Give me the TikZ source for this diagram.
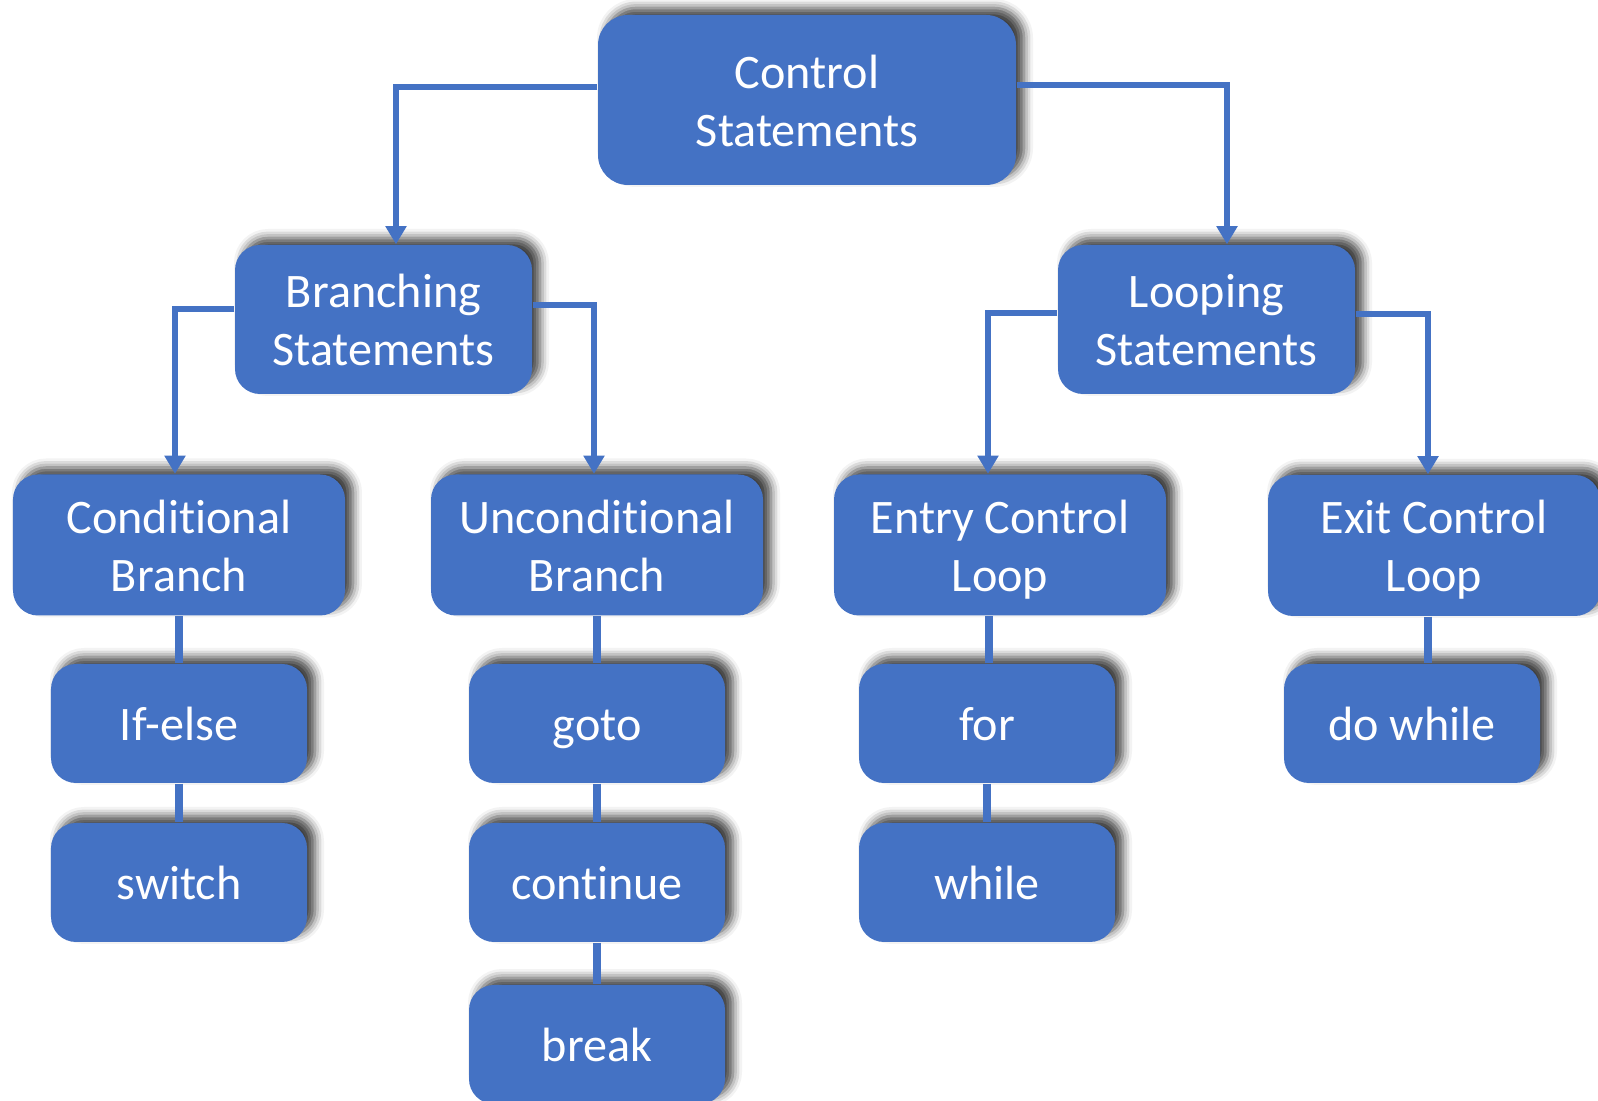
\documentclass[tikz,border=0pt]{standalone}
\usepackage{fontspec}
\setmainfont[Ligatures={NoCommon,NoContextual,NoRare},
             Contextuals=NoAlternate]{Carlito}
\usetikzlibrary{arrows.meta,shadows.blur}
\definecolor{boxblue}{HTML}{4472C4}

\begin{document}
\begin{tikzpicture}[
  box/.style   = {fill=boxblue, text=white, align=center, inner sep=0pt,
                  rounded corners=0.25cm, text height=26.2pt, text depth=0pt,
                  font=\fontsize{13.7pt}{16.5pt}\selectfont,
                  blur shadow={shadow xshift=0.08cm, shadow yshift=0.07cm,
                               shadow blur radius=0.09cm, shadow opacity=75}},
  top/.style   = {box, minimum width=4.18cm, minimum height=1.70cm,
                  rounded corners=0.3cm},
  mid/.style   = {box, minimum width=2.97cm, minimum height=1.49cm},
  kind/.style  = {box, minimum width=3.32cm, minimum height=1.41cm},
  leaf/.style  = {box, minimum width=2.56cm, minimum height=1.19cm,
                  text height=9.7pt},
  elbow/.style = {line width=1.9pt, boxblue,
                  -{Triangle[length=5.2pt,width=5.8pt]}},
  stem/.style  = {line width=2.3pt, boxblue},
]
  \clip (0,0) rectangle (15.98,-11.01);

  % rows from the top: 1.00 / 3.195 / 5.45 / 7.235 / 8.825 / 10.445
  \node[top]  (ctrl)    at (8.07,-1.00)    {Control\\Statements};
  \node[mid]  (branch)  at (3.835,-3.195)  {Branching\\Statements};
  \node[mid]  (loop)    at (12.065,-3.195) {Looping\\Statements};
  \node[kind] (cond)    at (1.79,-5.45)    {Condi\kern0pt tional\\Branch};
  \node[kind] (uncond)  at (5.97,-5.45)    {Uncondi\kern0pt tional\\Branch};
  \node[kind] (entry)   at (10.00,-5.45)   {Entry Control\\Loop};
  \node[kind] (exit)    at (14.34,-5.455)  {Exit Control\\Loop};
  \node[leaf] (ifelse)  at (1.79,-7.235)   {If-else};
  \node[leaf] (switch)  at (1.79,-8.825)   {switch};
  \node[leaf] (goto)    at (5.97,-7.235)   {goto};
  \node[leaf] (cont)    at (5.97,-8.825)   {continue};
  \node[leaf] (brk)     at (5.97,-10.445)  {break};
  \node[leaf] (for)     at (9.87,-7.235)   {for};
  \node[leaf] (while)   at (9.87,-8.825)   {while};
  \node[leaf] (dowhile) at (14.12,-7.235)  {do while};

  % elbows with arrow tips
  \draw[elbow] ([yshift=0.13cm]ctrl.west) -| ([xshift=0.125cm]branch.north);
  \draw[elbow] ([yshift=0.15cm]ctrl.east) -| ([xshift=0.205cm]loop.north);
  \draw[elbow] ([yshift=0.105cm]branch.west) -| ([xshift=-0.04cm]cond.north);
  \draw[elbow] ([yshift=0.145cm]branch.east) -| ([xshift=-0.03cm]uncond.north);
  \draw[elbow] ([yshift=0.065cm]loop.west) -| ([xshift=-0.12cm]entry.north);
  \draw[elbow] ([yshift=0.055cm]loop.east) -| ([xshift=-0.06cm]exit.north);

  % plain stems down the columns
  \draw[stem] (cond) -- (ifelse);
  \draw[stem] (ifelse) -- (switch);
  \draw[stem] (uncond) -- (goto);
  \draw[stem] (goto) -- (cont);
  \draw[stem] (cont) -- (brk);
  \draw[stem] ([xshift=0.02cm]for.north) -- ([xshift=0.02cm]for.north |- entry.south);
  \draw[stem] (for) -- (while);
  \draw[stem] ([xshift=-0.06cm]exit.south) -- ([xshift=-0.06cm]exit.south |- dowhile.north);
\end{tikzpicture}
\end{document}
